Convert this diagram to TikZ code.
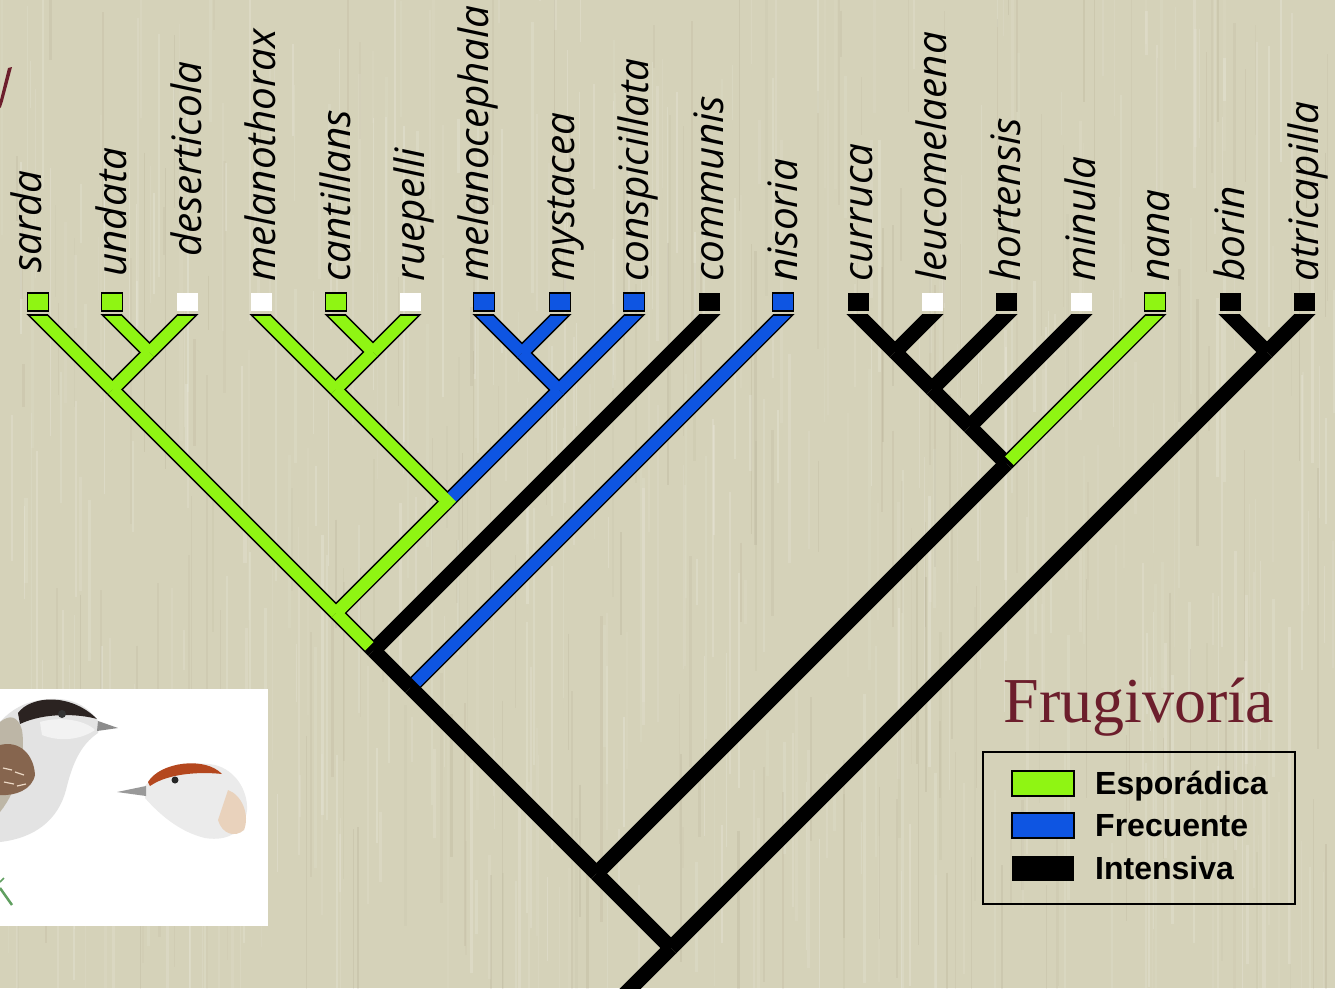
\documentclass[tikz,border=0pt]{standalone}
\usepackage{fontspec}
\newfontfamily\spfont{Open Sans}
\newfontfamily\legfont{Liberation Sans}
\newfontfamily\titlefont{Liberation Serif}
\definecolor{bgc}{HTML}{D5D2B9}
\definecolor{espc}{HTML}{8FF513}
\definecolor{frec}{HTML}{0E55E2}
\definecolor{maroonc}{HTML}{6C1E2C}
\definecolor{capblack}{HTML}{2B2321}
\definecolor{rufous}{HTML}{B4471E}
\definecolor{wingbrown}{HTML}{86654E}
\definecolor{backgrey}{HTML}{BDB6A6}
\begin{document}
\begin{tikzpicture}[x=1pt,y=-1pt,
  tipbox/.style={minimum width=21pt,minimum height=18pt,inner sep=0pt,outer sep=0pt},
  tipesp/.style={tipbox,fill=espc,draw=black,line width=1.5pt},
  tipfre/.style={tipbox,fill=frec,draw=black,line width=1.5pt},
  tipint/.style={tipbox,fill=black},
  tipnone/.style={tipbox,fill=white},
  splabel/.style={font=\spfont\itshape\fontsize{40.5}{40.5}\selectfont,rotate=90,anchor=mid west,inner sep=0pt},
  outl/.style={line width=15pt,black},
  espfill/.style={line width=12pt,espc},
  frefill/.style={line width=12pt,frec},
  fromtip/.style={shorten <=-14pt},
  swatch/.style={minimum width=62pt,minimum height=25pt,inner sep=0pt},
  leglabel/.style={font=\legfont\bfseries\fontsize{32}{32}\selectfont,anchor=base west,inner sep=0pt},
]
\useasboundingbox (0,0) rectangle (1335,988);

% paper background with vertical grain
\fill[bgc] (0,0) rectangle (1335,988);
\pgfmathsetseed{11}
\foreach \i in {1,...,420}{
  \pgfmathsetmacro\xx{rnd*1335}
  \pgfmathsetmacro\yy{rnd*988-100}
  \pgfmathsetmacro\hh{40+rnd*300}
  \pgfmathsetmacro\ww{0.8+rnd*2.4}
  \pgfmathsetmacro\oo{0.05+rnd*0.14}
  \draw[white,opacity=\oo,line width=\ww pt] (\xx,\yy) -- ++(0,\hh);
}
\foreach \i in {1,...,200}{
  \pgfmathsetmacro\xx{rnd*1335}
  \pgfmathsetmacro\yy{rnd*988-100}
  \pgfmathsetmacro\hh{40+rnd*300}
  \pgfmathsetmacro\ww{0.8+rnd*2}
  \pgfmathsetmacro\oo{0.02+rnd*0.05}
  \draw[black!60!brown,opacity=\oo,line width=\ww pt] (\xx,\yy) -- ++(0,\hh);
}

% fragment of a maroon title letter at the left edge
\fill[maroonc] (0,100) -- (8,68) -- (12,67) -- (3,101) -- (1,107) -- (0,108) -- cycle;

% tips, state boxes and species names
\foreach \n/\x/\s in {sarda/38/esp, undata/112/esp, deserticola/187/none,
  melanothorax/261/none, cantillans/336/esp, ruepelli/410/none,
  melanocephala/484/fre, mystacea/560/fre, conspicillata/634/fre,
  communis/709/int, nisoria/783/fre, curruca/858/int, leucomelaena/932/none,
  hortensis/1006/int, minula/1081/none, nana/1155/esp, borin/1230/int,
  atricapilla/1304/int}{
  \coordinate (\n) at (\x,315);
  \node[tip\s] (box-\n) at (\x,302) {};
}
\foreach \n/\x/\y in {sarda/39/273, undata/124/277, deserticola/199/257,
  melanothorax/273/282, cantillans/348/282, ruepelli/422/282,
  melanocephala/486/282, mystacea/572/282, conspicillata/646/282,
  communis/721/282, nisoria/795/282, curruca/870/282, leucomelaena/944/282,
  hortensis/1018/282, minula/1093/282, nana/1167/282, borin/1242/282,
  atricapilla/1316/282}{
  \node[splabel] (lab-\n) at (\x,\y) {\n};
}

% internal nodes of the tree
\coordinate (U)  at (149.5,352.5);
\coordinate (A)  at (112.5,389.5);
\coordinate (C)  at (373,352);
\coordinate (B)  at (335.5,389.5);
\coordinate (M)  at (522,353);
\coordinate (M2) at (559,390);
\coordinate (G2) at (447.5,501.5);
\coordinate (G1) at (336,613);
\coordinate (G3) at (373.5,650.5);
\coordinate (G4) at (410.5,687.5);
\coordinate (K1) at (895,352);
\coordinate (K2) at (932,389);
\coordinate (K3) at (969.5,426.5);
\coordinate (N5) at (1006.5,463.5);
\coordinate (R1) at (596.5,873.5);
\coordinate (BA) at (1267,352);
\coordinate (R2) at (671,948);
\coordinate (root) at (611,1008);

% black pass: intensive branches and outlines of the coloured ones
\begin{scope}
  \clip (0,314) rectangle (1335,988);
  \foreach \a/\b in {sarda/A, undata/U, deserticola/U, melanothorax/B,
    cantillans/C, ruepelli/C, melanocephala/M, mystacea/M, conspicillata/M2,
    communis/G3, nisoria/G4, curruca/K1, leucomelaena/K1, hortensis/K2,
    minula/K3, nana/N5, borin/BA, atricapilla/BA}
    \draw[outl,fromtip] (\a) -- (\b);
  \foreach \a/\b in {U/A, A/G1, C/B, B/G2, M/M2, M2/G2, G2/G1, G1/G3,
    G3/G4, G4/R1, K1/K2, K2/K3, K3/N5, N5/R1, BA/R2, R1/R2, R2/root}
    \draw[outl] (\a) -- (\b);
\end{scope}

% coloured pass: sporadic (green) and frequent (blue) branches
\begin{scope}
  \clip (0,316.5) rectangle (1335,988);
  \foreach \a/\b in {melanocephala/M, mystacea/M, conspicillata/M2}
    \draw[frefill,fromtip] (\a) -- (\b);
  \draw[frefill] (M) -- (M2);
  \draw[frefill] (M2) -- (G2);
  \draw[frefill,fromtip,shorten >=7.5pt] (nisoria) -- (G4);
  \foreach \a/\b in {sarda/A, undata/U, deserticola/U, melanothorax/B,
    cantillans/C, ruepelli/C}
    \draw[espfill,fromtip] (\a) -- (\b);
  \draw[espfill,fromtip,shorten >=4pt] (nana) -- (N5);
  \foreach \a/\b in {U/A, A/G1, C/B, G2/G1}
    \draw[espfill] (\a) -- (\b);
  \draw[espfill,shorten >=-6pt] (B) -- (G2);
  \draw[espfill,shorten >=6pt] (G1) -- (G3);
\end{scope}

% illustration panel with two heads
\fill[white] (0,689) rectangle (268,926);
\begin{scope}
  \clip (0,689) rectangle (268,926);
  % male: body, back, wing and black cap
  \fill[black!11!white] (0,722) .. controls (15,705) and (35,698) .. (58,699)
    .. controls (80,700) and (93,712) .. (100,724) -- (98,733)
    .. controls (80,745) and (72,765) .. (66,790)
    .. controls (58,820) and (35,838) .. (0,842) -- cycle;
  \fill[black!5!white] (40,722) .. controls (60,716) and (85,720) .. (95,730)
    .. controls (80,740) and (60,742) .. (42,735) -- cycle;
  \fill[backgrey] (0,722) .. controls (10,714) and (18,716) .. (22,730)
    .. controls (26,755) and (18,790) .. (0,812) -- cycle;
  \fill[wingbrown] (0,745) .. controls (20,740) and (34,755) .. (35,775)
    .. controls (32,790) and (15,796) .. (0,795) -- cycle;
  \draw[brown!30!white,line width=1.2pt] (3,768) -- (12,770) (15,772) -- (24,775)
    (4,782) -- (14,784) (17,786) -- (26,784);
  \fill[capblack] (18,713) .. controls (30,696) and (70,692) .. (97,719)
    .. controls (80,714) and (45,712) .. (20,724) -- cycle;
  \fill[black!80] (62,714) circle (4);
  \fill[black!45] (98,721) -- (118,728) -- (97,731) -- cycle;
  % female: head with rufous cap
  \fill[black!8!white] (145,786) .. controls (160,768) and (190,760) .. (215,765)
    .. controls (235,770) and (248,790) .. (247,810)
    .. controls (245,830) and (230,842) .. (205,838)
    .. controls (180,832) and (160,815) .. (145,798) -- cycle;
  \fill[brown!35!white] (228,790) .. controls (242,795) and (250,815) .. (244,830)
    .. controls (235,838) and (222,834) .. (218,820) -- cycle;
  \fill[rufous] (148,782) .. controls (160,762) and (205,756) .. (222,774)
    .. controls (205,772) and (170,772) .. (150,786) -- cycle;
  \fill[black!85] (175,780) circle (3.5);
  \fill[black!40] (146,786) -- (117,792) -- (146,796) -- cycle;
  % twig
  \draw[green!25!gray,line width=2.5pt] (0,888) -- (12,905);
  \draw[green!25!gray,line width=1.5pt] (0,882) -- (4,878);
\end{scope}

% legend
\node[font=\titlefont\fontsize{64}{64}\selectfont,text=maroonc,anchor=base,inner sep=0pt] (title) at (1139,722) {Frugivoría};
\node[draw=black,line width=2pt,minimum width=312pt,minimum height=152pt,inner sep=0pt] (legend) at (1139,828) {};
\node[swatch,fill=espc,draw=black,line width=1.8pt] (sw-esp) at (1043,783.5) {};
\node[swatch,fill=frec,draw=black,line width=1.8pt] (sw-fre) at (1043,825.5) {};
\node[swatch,fill=black] (sw-int) at (1043,868.5) {};
\node[leglabel] (lg-esp) at (1095,794) {Esporádica};
\node[leglabel] (lg-fre) at (1095,836) {Frecuente};
\node[leglabel] (lg-int) at (1095,879) {Intensiva};
\end{tikzpicture}
\end{document}
